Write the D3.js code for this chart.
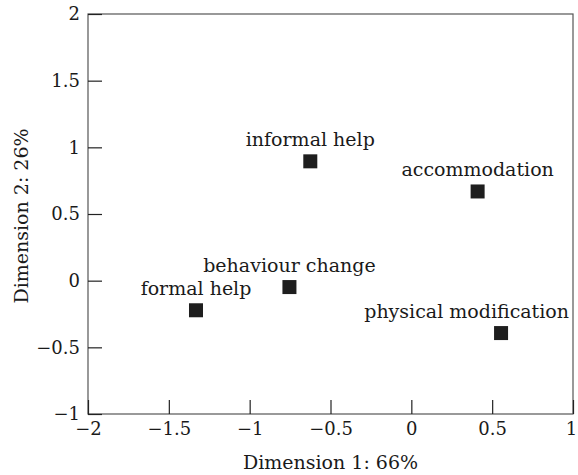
<!DOCTYPE html>
<html><head><meta charset="utf-8">
<script src="https://cdn.jsdelivr.net/npm/d3@7"></script>
<style>body{margin:0;background:#fff}</style>
</head><body><svg id="c" width="578" height="475"></svg>
<script>
const categories = ["informal help", "accommodation", "behaviour change", "formal help", "physical modification"];
const dim1 = [-0.625, 0.41, -0.754, -1.332, 0.555];
const dim2 = [0.895, 0.669, -0.048, -0.222, -0.393];
const xTicks = [-2, -1.5, -1, -0.5, 0, 0.5, 1];
const yTicks = [-1, -0.5, 0, 0.5, 1, 1.5, 2];
const xTitle = "Dimension 1: 66%";
const yTitle = "Dimension 2: 26%";

const FONT = "'DejaVu Serif', serif";
const FS = 19;
const TFS = 18;
const svg = d3.select("#c");
const pL = 88, pR = 573, pT = 14, pB = 414;
const x = d3.scaleLinear().domain([-2, 1]).range([pL, pR]);
const y = d3.scaleLinear().domain([-1, 2]).range([pB, pT]);
const fmt = d => d < 0 ? "\u2212" + Math.abs(d) : String(d);

// frame
svg.append("rect").attr("x", pL).attr("y", pT).attr("width", pR - pL).attr("height", pB - pT)
  .attr("fill", "none").attr("stroke", "#555").attr("stroke-width", 1.2);

const gx = svg.append("g").attr("transform", `translate(0,${pB})`)
  .call(d3.axisBottom(x).tickValues(xTicks).tickFormat(fmt).tickSizeInner(-14).tickSizeOuter(0).tickPadding(8));
const gy = svg.append("g").attr("transform", `translate(${pL},0)`)
  .call(d3.axisLeft(y).tickValues(yTicks).tickFormat(fmt).tickSizeInner(-14).tickSizeOuter(0).tickPadding(8));
[gx, gy].forEach(g => {
  g.select(".domain").remove();
  g.selectAll(".tick line").attr("stroke", "#222").attr("stroke-width", 1.2);
  g.selectAll(".tick text").attr("fill", "#1a1a1a").style("font-family", FONT).style("font-size", TFS + "px");
});
// keep the last x tick label inside the page
gx.selectAll(".tick text").filter(d => d === 1).attr("dx", -2);

// axis titles
svg.append("text").attr("x", (pL + pR) / 2).attr("y", 469).attr("text-anchor", "middle")
  .style("font-family", FONT).style("font-size", FS + "px").attr("fill", "#1a1a1a").text(xTitle);
svg.append("text").attr("transform", `translate(28,${(pT + pB) / 2 + 2}) rotate(-90)`).attr("text-anchor", "middle")
  .style("font-family", FONT).style("font-size", FS + "px").attr("fill", "#1a1a1a").text(yTitle);

const pts = categories.map((c, i) => ({name: c, a: dim1[i], b: dim2[i]}));
const sz = 14;
svg.append("g").selectAll("rect").data(pts).join("rect")
  .attr("x", d => x(d.a) - sz / 2).attr("y", d => y(d.b) - sz / 2)
  .attr("width", sz).attr("height", sz).attr("fill", "#1e1e1e");

svg.append("g").selectAll("text").data(pts).join("text")
  .attr("x", d => x(d.a)).attr("y", d => y(d.b) - 15)
  .attr("text-anchor", "middle")
  .style("font-family", FONT).style("font-size", FS + "px").attr("fill", "#1a1a1a")
  .text(d => d.name)
  .each(function(d) {
    const w = this.getComputedTextLength();
    let cx = x(d.a);
    if (cx + w / 2 > pR - 4) cx = pR - 4 - w / 2;
    d3.select(this).attr("x", cx);
  });
</script>
</body></html>
